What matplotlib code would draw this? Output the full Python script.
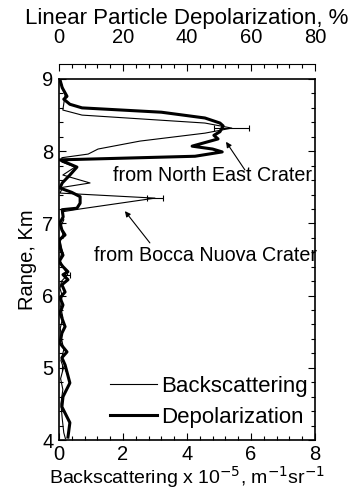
import matplotlib
matplotlib.use("Agg")
import matplotlib.pyplot as plt
from matplotlib.ticker import MultipleLocator

plt.rcParams['font.family'] = ['Liberation Sans', 'DejaVu Sans']

# Backscattering profile (x 1e-5 m^-1 sr^-1) versus range (km)
bsc_range = [9.00, 8.78, 8.57, 8.50, 8.39, 8.32, 8.25, 8.14, 8.03, 7.96, 7.91,
             7.85, 7.78, 7.67, 7.56, 7.50, 7.42, 7.35, 7.20, 7.16, 7.05, 6.95,
             6.85, 6.75, 6.62, 6.50, 6.40, 6.29, 6.20, 6.10, 6.00, 5.85, 5.70,
             5.55, 5.40, 5.25, 5.10, 5.00, 4.85, 4.70, 4.50, 4.30, 4.10, 4.02]
bsc_value = [0.03, 0.19, 0.12, 0.72, 4.56, 5.40, 4.56, 2.53, 1.22, 0.91, 0.09,
             0.09, 0.50, 0.12, 0.97, 0.12, 0.03, 3.00, 0.66, 0.09, 0.15, 0.05,
             0.12, 0.04, 0.10, 0.03, 0.12, 0.27, 0.08, 0.03, 0.10, 0.05, 0.12,
             0.04, 0.08, 0.15, 0.06, 0.14, 0.05, 0.12, 0.06, 0.10, 0.15, 0.20]

# Error bars on selected backscattering points
err_range = [8.32, 7.35, 6.29, 5.00]
err_value = [5.40, 3.00, 0.27, 0.14]
err_size = [0.55, 0.25, 0.08, 0.05]

# Linear particle depolarization (%) versus range (km)
dep_range = [8.99, 8.88, 8.76, 8.72, 8.65, 8.60, 8.54, 8.46, 8.39, 8.35, 8.27,
             8.22, 8.17, 8.07, 8.03, 7.99, 7.93, 7.88, 7.78, 7.67, 7.56, 7.49,
             7.43, 7.37, 7.28, 7.21, 7.19, 7.09, 7.01, 6.91, 6.84, 6.77, 6.67,
             6.56, 6.47, 6.40, 6.33, 6.29, 6.22, 6.15, 6.05, 5.97, 5.87, 5.76,
             5.57, 5.48, 5.34, 5.22, 5.14, 5.04, 4.79, 4.60, 4.46, 4.24, 4.04]
dep_value = [0.3, 1.0, 2.5, 1.5, 3.4, 7.2, 32.0, 45.6, 50.3, 51.3, 50.3,
             48.4, 49.7, 41.6, 48.0, 51.0, 42.5, 0.3, 5.6, 3.4, 1.0, 0.3,
             4.0, 6.6, 6.6, 5.6, 1.0, 1.3, 0.3, 0.9, 1.9, 0.0, 0.3,
             1.25, 0.0, 1.25, 2.8, 1.25, 2.8, 0.9, 1.9, 0.3, 1.25, 0.3,
             1.9, 0.9, 0.3, 2.5, 0.9, 1.9, 3.4, 1.25, 0.9, 3.4, 2.8]

x_ticks = [0, 2, 4, 6, 8]
top_ticks = [0, 20, 40, 60, 80]
y_ticks = [4, 5, 6, 7, 8, 9]

fig = plt.figure(figsize=(3.51, 4.95), dpi=100)
ax = fig.add_axes([59 / 351, 1 - 440 / 495, 256 / 351, 361 / 495])

ax.plot(bsc_value, bsc_range, color='black', lw=0.8, label='Backscattering')
ax.errorbar(err_value, err_range, xerr=err_size, fmt='none', ecolor='black',
            elinewidth=0.8, capsize=2.5, capthick=0.8)
ax.set_xlim(0, 8)
ax.set_ylim(4, 9)
ax.set_xticks(x_ticks)
ax.set_yticks(y_ticks)
ax.xaxis.set_minor_locator(MultipleLocator(0.4))
ax.yaxis.set_minor_locator(MultipleLocator(0.2))
ax.tick_params(which='both', direction='in', top=True, right=True,
               labeltop=False, labelright=False, labelsize=14.5, width=0.8)
ax.tick_params(axis='x', pad=3.5)
ax.tick_params(axis='y', pad=4)
ax.tick_params(which='major', length=5)
ax.tick_params(which='minor', length=3)
for s in ax.spines.values():
    s.set_linewidth(1.2)
ax.set_xlabel(r'Backscattering x 10$^{-5}$, m$^{-1}$sr$^{-1}$', fontsize=14, labelpad=0)
ax.set_ylabel('Range, Km', fontsize=14.5, labelpad=4)

ax2 = ax.twiny()
ax2.plot(dep_value, dep_range, color='black', lw=2.2, label='Depolarization')
ax2.set_xlim(0, 80)
ax2.set_xticks(top_ticks)
ax2.xaxis.set_minor_locator(MultipleLocator(4))
ax2.spines['top'].set_position(('outward', 11))
ax2.spines['top'].set_linewidth(0.8)
for k in ('left', 'right', 'bottom'):
    ax2.spines[k].set_visible(False)
ax2.tick_params(which='both', direction='in', labelsize=14.5, pad=12, width=0.8)
ax2.tick_params(which='major', length=5)
ax2.tick_params(which='minor', length=3)
ax2.set_xlabel('Linear Particle Depolarization, %', fontsize=16, labelpad=3)

# Source annotations
ax.text(4.8, 7.66, 'from North East Crater', fontsize=14.2, ha='center', va='center')
ax.annotate('', xy=(5.22, 8.13), xytext=(5.81, 7.74),
            arrowprops=dict(arrowstyle='-|>', color='black', lw=0.8,
                            mutation_scale=8, shrinkA=0, shrinkB=0))
ax.text(4.58, 6.55, 'from Bocca Nuova Crater', fontsize=14.2, ha='center', va='center')
ax.annotate('', xy=(2.06, 7.17), xytext=(2.84, 6.73),
            arrowprops=dict(arrowstyle='-|>', color='black', lw=0.8,
                            mutation_scale=8, shrinkA=0, shrinkB=0))

h1, l1 = ax.get_legend_handles_labels()
h2, l2 = ax2.get_legend_handles_labels()
ax.legend(h1 + h2, l1 + l2, loc='upper left', bbox_to_anchor=(0.2, 0.178),
          frameon=False, fontsize=16, handlelength=2.1, handletextpad=0.2,
          borderpad=0, borderaxespad=0, labelspacing=0.45)

fig.savefig('out.png', dpi=100)
